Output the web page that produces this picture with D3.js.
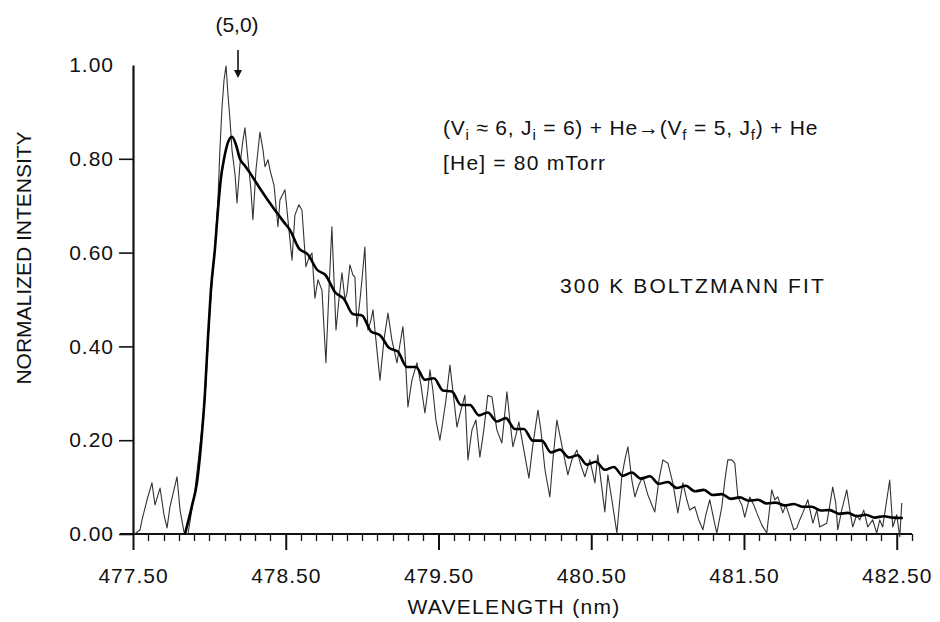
<!DOCTYPE html>
<html>
<head>
<meta charset="utf-8">
<script src="https://cdn.jsdelivr.net/npm/d3@7"></script>
<style>
body { margin: 0; background: #fff; }
svg text { font-family: "Liberation Sans", Arial, sans-serif; fill: #111; }
</style>
</head>
<body>
<script>
// measured spectrum (thin noisy trace)
var wavelength = [477.513,477.546,477.559,477.592,477.624,477.644,477.677,477.703,477.723,477.742,477.768,477.788,477.808,477.834,477.860,477.906,477.939,477.971,478.004,478.037,478.056,478.069,478.083,478.096,478.109,478.122,478.135,478.148,478.168,478.181,478.200,478.220,478.233,478.253,478.272,478.285,478.305,478.331,478.351,478.364,478.384,478.397,478.423,478.449,478.462,478.495,478.521,478.541,478.560,478.586,478.606,478.632,478.652,478.672,478.691,478.711,478.737,478.763,478.783,478.802,478.829,478.848,478.868,478.888,478.901,478.920,478.940,478.953,478.966,478.986,478.999,479.018,479.038,479.058,479.071,479.097,479.117,479.143,479.169,479.195,479.228,479.247,479.267,479.280,479.300,479.326,479.359,479.385,479.411,479.431,479.444,479.463,479.483,479.509,479.522,479.549,479.575,479.601,479.621,479.647,479.673,479.693,479.719,479.745,479.771,479.797,479.823,479.850,479.882,479.915,479.948,479.967,479.987,480.007,480.026,480.059,480.092,480.118,480.151,480.170,480.197,480.229,480.249,480.275,480.301,480.327,480.347,480.373,480.406,480.432,480.458,480.491,480.524,480.543,480.563,480.589,480.609,480.635,480.668,480.687,480.700,480.720,480.740,480.766,480.786,480.812,480.838,480.871,480.897,480.916,480.943,480.969,481.002,481.034,481.067,481.100,481.126,481.145,481.178,481.204,481.231,481.250,481.276,481.303,481.322,481.355,481.375,481.394,481.420,481.440,481.460,481.486,481.505,481.538,481.564,481.584,481.617,481.649,481.682,481.702,481.722,481.754,481.774,481.800,481.826,481.846,481.865,481.885,481.918,481.951,481.977,481.996,482.042,482.062,482.081,482.101,482.114,482.140,482.173,482.193,482.212,482.238,482.258,482.284,482.310,482.343,482.369,482.389,482.408,482.435,482.454,482.474,482.500,482.520,482.533];
var intensity = [0,0.009,0.030,0.073,0.109,0.062,0.098,0.041,0.013,0.058,0.094,0.122,0.051,0.004,0,0.094,0.190,0.286,0.478,0.617,0.712,0.819,0.911,0.968,0.998,0.936,0.883,0.819,0.766,0.706,0.787,0.840,0.866,0.798,0.734,0.670,0.776,0.857,0.819,0.783,0.798,0.776,0.744,0.655,0.712,0.734,0.648,0.584,0.680,0.702,0.691,0.570,0.589,0.599,0.503,0.542,0.520,0.365,0.520,0.655,0.435,0.499,0.557,0.499,0.514,0.574,0.552,0.548,0.442,0.499,0.542,0.612,0.435,0.456,0.478,0.392,0.328,0.414,0.471,0.414,0.365,0.403,0.442,0.392,0.271,0.328,0.365,0.318,0.258,0.307,0.350,0.307,0.243,0.200,0.226,0.286,0.360,0.286,0.228,0.264,0.296,0.158,0.222,0.243,0.164,0.222,0.296,0.292,0.222,0.194,0.303,0.243,0.186,0.211,0.239,0.179,0.119,0.190,0.264,0.222,0.137,0.079,0.158,0.243,0.200,0.158,0.126,0.158,0.179,0.147,0.122,0.158,0.109,0.169,0.115,0.047,0.126,0.073,0.002,0.073,0.122,0.158,0.186,0.115,0.079,0.105,0.122,0.083,0.062,0.047,0.115,0.158,0.151,0.109,0.045,0.109,0.073,0.051,0.058,0.030,0.009,0.041,0.073,0.030,0.002,0.058,0.115,0.158,0.158,0.151,0.079,0.062,0.036,0.079,0.062,0.045,0.019,0.002,0.094,0.073,0.079,0.045,0.062,0.036,0.009,0.013,0.030,0.045,0.073,0.023,0.051,0.015,0.023,0.062,0.100,0.066,0.009,0.051,0.094,0.051,0.015,0.041,0.030,0.051,0.015,0.030,0.002,0.030,0.015,0.073,0.115,0.015,0.041,-0.006,0.066];

// 300 K Boltzmann fit (thick trace)
var fitWavelength = [477.840,477.886,477.919,477.945,477.971,477.991,478.010,478.037,478.056,478.076,478.096,478.122,478.148,478.174,478.200,478.233,478.266,478.305,478.351,478.397,478.442,478.488,478.528,478.586,478.645,478.704,478.763,478.822,478.881,478.940,478.999,479.058,479.117,479.176,479.234,479.293,479.352,479.411,479.470,479.529,479.588,479.647,479.706,479.765,479.823,479.882,479.941,480.000,480.059,480.118,480.177,480.236,480.295,480.354,480.412,480.471,480.530,480.589,480.648,480.707,480.766,480.825,480.884,480.943,481.002,481.060,481.119,481.178,481.237,481.296,481.355,481.414,481.473,481.532,481.591,481.649,481.708,481.767,481.826,481.885,481.944,482.003,482.062,482.121,482.180,482.238,482.297,482.356,482.415,482.474,482.540];
var fitIntensity = [0,0.06,0.11,0.19,0.30,0.42,0.52,0.61,0.69,0.76,0.80,0.835,0.847,0.83,0.80,0.785,0.77,0.75,0.727,0.705,0.685,0.665,0.648,0.609,0.596,0.564,0.551,0.516,0.501,0.469,0.466,0.432,0.424,0.397,0.389,0.356,0.356,0.329,0.332,0.306,0.304,0.275,0.275,0.253,0.259,0.240,0.247,0.224,0.224,0.199,0.199,0.174,0.180,0.163,0.168,0.148,0.154,0.137,0.143,0.124,0.131,0.118,0.123,0.107,0.111,0.098,0.103,0.091,0.094,0.083,0.085,0.075,0.078,0.071,0.073,0.065,0.067,0.061,0.064,0.058,0.058,0.050,0.051,0.043,0.045,0.038,0.041,0.035,0.038,0.035,0.034];

var xTicks = [477.5, 478.5, 479.5, 480.5, 481.5, 482.5];
var xMinor = [477.6,477.7,477.8,477.9,478.0,478.1,478.2,478.3,478.4,478.6,478.7,478.8,478.9,479.0,479.1,479.2,479.3,479.4,479.6,479.7,479.8,479.9,480.0,480.1,480.2,480.3,480.4,480.6,480.7,480.8,480.9,481.0,481.1,481.2,481.3,481.4,481.6,481.7,481.8,481.9,482.0,482.1,482.2,482.3,482.4,482.6];
var yTicks = [0, 0.2, 0.4, 0.6, 0.8, 1.0];

var svg = d3.select("body").append("svg").attr("width", 940).attr("height", 622);

var x = d3.scaleLinear().domain([477.5, 482.6]).range([133, 912]);
var y = d3.scaleLinear().domain([0, 1]).range([534, 65]);

// minor ticks under the x axis, every 0.1 nm
svg.append("g").selectAll("line").data(xMinor).enter().append("line")
    .attr("x1", function(d) { return Math.round(x(d)) + 0.5; })
    .attr("x2", function(d) { return Math.round(x(d)) + 0.5; })
    .attr("y1", 534).attr("y2", 541)
    .attr("stroke", "#111").attr("stroke-width", 1.3);

// major ticks and labels
var gx = svg.append("g").attr("transform", "translate(0,534)")
    .call(d3.axisBottom(x).tickValues(xTicks).tickSize(16).tickSizeOuter(0).tickFormat(d3.format(".2f")));
gx.select(".domain").attr("stroke", "#111").attr("stroke-width", 2).attr("d", "M120,0H912");
gx.selectAll("line").attr("stroke", "#111").attr("stroke-width", 2);
gx.selectAll("text").attr("y", 49).attr("dy", null)
    .style("font-size", "21px").style("letter-spacing", "1px");

// y axis
var gy = svg.append("g").attr("transform", "translate(133,0)")
    .call(d3.axisLeft(y).tickValues(yTicks).tickSize(14).tickPadding(5).tickSizeOuter(0).tickFormat(d3.format(".2f")));
gy.select(".domain").attr("stroke", "#111").attr("stroke-width", 2.2);
gy.selectAll("line").attr("stroke", "#111").attr("stroke-width", 1.6);
gy.selectAll(".tick").filter(function(d) { return d == 1; }).select("line").remove();
gy.selectAll("text").style("font-size", "21px").style("letter-spacing", "1px");

// axis titles
svg.append("text").attr("x", 514).attr("y", 614).attr("text-anchor", "middle")
    .style("font-size", "21px").style("letter-spacing", "1.3px").text("WAVELENGTH (nm)");
svg.append("text").attr("transform", "translate(31,258) rotate(-90)").attr("text-anchor", "middle")
    .style("font-size", "21px").text("NORMALIZED INTENSITY");

// the curves
var line = d3.line().x(function(d) { return x(d[0]); }).y(function(d) { return y(d[1]); });
var smooth = d3.line().curve(d3.curveMonotoneX).x(function(d) { return x(d[0]); }).y(function(d) { return y(d[1]); });

svg.append("path").datum(d3.zip(wavelength, intensity))
    .attr("d", line).attr("fill", "none").attr("stroke", "#333").attr("stroke-width", 1.1)
    .attr("stroke-linejoin", "round");

svg.append("path").datum(d3.zip(fitWavelength, fitIntensity))
    .attr("d", smooth).attr("fill", "none").attr("stroke", "#000").attr("stroke-width", 2.6)
    .attr("stroke-linejoin", "round");

// (5,0) band head marker
svg.append("text").attr("x", 237).attr("y", 32).attr("text-anchor", "middle")
    .style("font-size", "21px").text("(5,0)");
svg.append("line").attr("x1", 238).attr("x2", 238).attr("y1", 50).attr("y2", 72)
    .attr("stroke", "#111").attr("stroke-width", 1.6);
svg.append("path").attr("d", "M234,70L242,70L238,78Z").attr("fill", "#111");

// reaction label
var r = svg.append("text").attr("x", 443).attr("y", 135)
    .style("font-size", "21px").style("letter-spacing", "0.8px");
function seg(t, sub) {
    var s = r.append("tspan").text(t);
    if (sub) s.attr("dy", 5).style("font-size", "15px");
    return s;
}
seg("(V"); seg("i", true); seg(" \u2248 6, J").attr("dy", -5); seg("i", true); seg(" = 6) + He").attr("dy", -5);
seg("\u2192"); seg("(V"); seg("f", true); seg(" = 5, J").attr("dy", -5); seg("f", true); seg(") + He").attr("dy", -5);

svg.append("text").attr("x", 443).attr("y", 170)
    .style("font-size", "21px").style("letter-spacing", "1.2px").text("[He] = 80 mTorr");

svg.append("text").attr("x", 560).attr("y", 293)
    .style("font-size", "21px").style("letter-spacing", "2.1px").text("300 K BOLTZMANN FIT");
</script>
</body>
</html>
